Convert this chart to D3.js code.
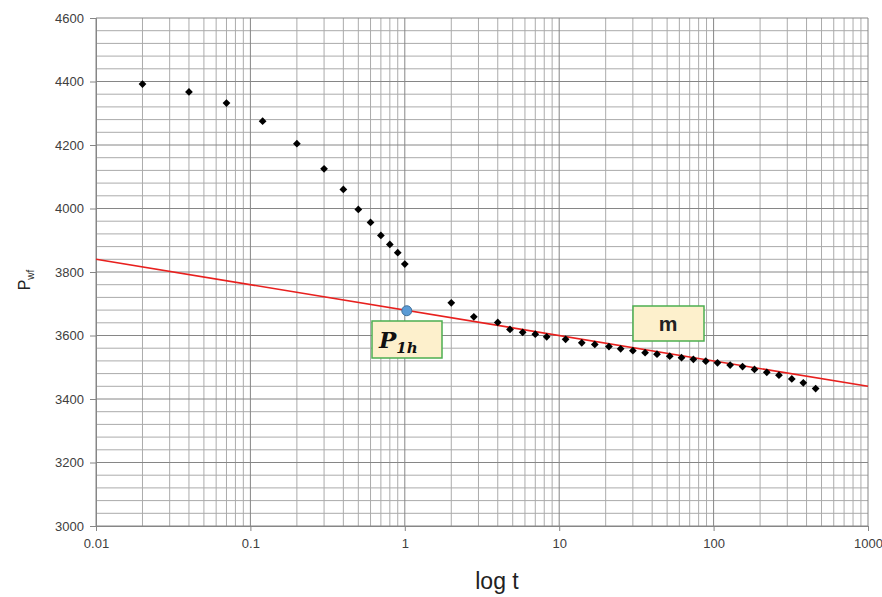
<!DOCTYPE html>
<html>
<head>
<meta charset="utf-8">
<script src="https://cdn.jsdelivr.net/npm/d3@7"></script>
<style>
	body { margin: 0; background: #fff; }
	text { font-family: "Liberation Sans", Arial, sans-serif; }
</style>
</head>
<body>
<svg width="882" height="597"></svg>
<script>
// Semilog plot of flowing pressure vs time

var t_values = [0.02, 0.04, 0.07, 0.12, 0.2, 0.3, 0.4, 0.5, 0.6, 0.7, 0.8, 0.9, 1,
	2, 2.8, 4, 4.8, 5.8, 7, 8.3, 11, 14, 17, 21, 25, 30, 36, 43, 52, 62, 74, 89,
	106, 128, 154, 184, 221, 265, 321, 381, 458];
var pwf_values = [4392, 4367, 4332, 4275, 4204, 4125, 4060, 3997, 3956, 3915, 3887, 3861, 3825,
	3703, 3659, 3641, 3619, 3610, 3604, 3596, 3588, 3577, 3572, 3565, 3558, 3552, 3546, 3541, 3535, 3530, 3525, 3519,
	3514, 3507, 3502, 3493, 3484, 3475, 3463, 3451, 3433];

// straight line through the semilog section
var line_t = [0.01, 1000];
var line_p = [3840, 3440];
var p1h_point = {t: 1.03, p: 3678};

var x_ticks = [0.01, 0.1, 1, 10, 100, 1000];
var y_ticks = [3000, 3200, 3400, 3600, 3800, 4000, 4200, 4400, 4600];

var svg_handle = d3.select("svg");
var plot_left = 96, plot_top = 18, plot_right = 868, plot_bottom = 526;

var x = d3.scaleLog().domain([0.01, 1000]).range([plot_left, plot_right]);
var y = d3.scaleLinear().domain([3000, 4600]).range([plot_bottom, plot_top]);

// grid
var grid = svg_handle.append("g");
var minor_x = [];
x_ticks.slice(0, -1).forEach(d => {
	for (var k = 2; k <= 9; k++) minor_x.push(d * k);
});
grid.selectAll(".vminor").data(minor_x).enter().append("line")
	.attr("x1", d => x(d)).attr("x2", d => x(d))
	.attr("y1", plot_top).attr("y2", plot_bottom)
	.attr("stroke", "#ababab").attr("stroke-width", 1);
var minor_y = d3.range(3040, 4600, 40).filter(v => v % 200 != 0);
grid.selectAll(".hminor").data(minor_y).enter().append("line")
	.attr("x1", plot_left).attr("x2", plot_right)
	.attr("y1", d => y(d)).attr("y2", d => y(d))
	.attr("stroke", "#ababab").attr("stroke-width", 1);
grid.selectAll(".vmajor").data(x_ticks).enter().append("line")
	.attr("x1", d => x(d)).attr("x2", d => x(d))
	.attr("y1", plot_top).attr("y2", plot_bottom)
	.attr("stroke", "#868686").attr("stroke-width", 1);
grid.selectAll(".hmajor").data(y_ticks).enter().append("line")
	.attr("x1", plot_left).attr("x2", plot_right)
	.attr("y1", d => y(d)).attr("y2", d => y(d))
	.attr("stroke", "#868686").attr("stroke-width", 1);

// axes
var y_axis = svg_handle.append("g")
	.attr("transform", "translate(" + plot_left + ",0)")
	.call(d3.axisLeft(y).tickValues(y_ticks).tickSize(6).tickPadding(6).tickFormat(d3.format("d")));
var x_axis = svg_handle.append("g")
	.attr("transform", "translate(0," + plot_bottom + ")")
	.call(d3.axisBottom(x).tickValues(x_ticks).tickSize(5).tickPadding(8).tickFormat(d => String(d)));
[y_axis, x_axis].forEach(a => {
	a.select(".domain").attr("stroke", "#868686");
	a.selectAll(".tick line").attr("stroke", "#868686");
	a.selectAll(".tick text").attr("fill", "#404040").style("font-size", "13px")
		.style("font-family", "'Liberation Sans', Arial, sans-serif");
});

// fitted line
svg_handle.append("line")
	.attr("x1", x(line_t[0])).attr("y1", y(line_p[0]))
	.attr("x2", x(line_t[1])).attr("y2", y(line_p[1]))
	.attr("stroke", "#e8201e").attr("stroke-width", 1.6);

// data markers (square turned 45 degrees, like a spreadsheet diamond)
svg_handle.append("g").selectAll("path")
	.data(t_values.map((t, i) => ({t: t, p: pwf_values[i]})))
	.enter().append("path")
	.attr("d", d3.symbol().type(d3.symbolSquare).size(30))
	.attr("transform", d => "translate(" + x(d.t) + "," + y(d.p) + ") rotate(45)")
	.attr("fill", "#000");

svg_handle.append("circle")
	.attr("cx", x(p1h_point.t)).attr("cy", y(p1h_point.p))
	.attr("r", 5)
	.attr("fill", "#5b9bd5").attr("stroke", "#41719c").attr("stroke-width", 1);

// annotation boxes
svg_handle.append("rect")
	.attr("x", 372).attr("y", 321).attr("width", 70).attr("height", 37)
	.attr("fill", "#fdf0cc").attr("stroke", "#4caf50").attr("stroke-width", 1.5);
var p1h = svg_handle.append("text")
	.attr("x", 379).attr("y", 348)
	.style("font-family", "'DejaVu Serif', 'Liberation Serif', serif")
	.style("font-weight", "bold").style("font-style", "italic")
	.style("font-size", "23px").attr("fill", "#111");
p1h.append("tspan").text("P");
p1h.append("tspan").attr("dy", 5).style("font-size", "15px").text("1h");

svg_handle.append("rect")
	.attr("x", 633).attr("y", 306).attr("width", 71).attr("height", 35)
	.attr("fill", "#fdf0cc").attr("stroke", "#4caf50").attr("stroke-width", 1.5);
svg_handle.append("text")
	.attr("x", 668).attr("y", 331).attr("text-anchor", "middle")
	.style("font-weight", "bold").style("font-size", "21px").attr("fill", "#222")
	.text("m");

// axis titles
var ytitle = svg_handle.append("text")
	.attr("transform", "translate(30,280) rotate(-90)")
	.attr("text-anchor", "middle")
	.style("font-size", "16px").attr("fill", "#222");
ytitle.append("tspan").text("P");
ytitle.append("tspan").attr("dy", 4).style("font-size", "10px").text("wf");

svg_handle.append("text")
	.attr("x", 497).attr("y", 589).attr("text-anchor", "middle")
	.style("font-size", "23px").attr("fill", "#222")
	.text("log t");
</script>
</body>
</html>
